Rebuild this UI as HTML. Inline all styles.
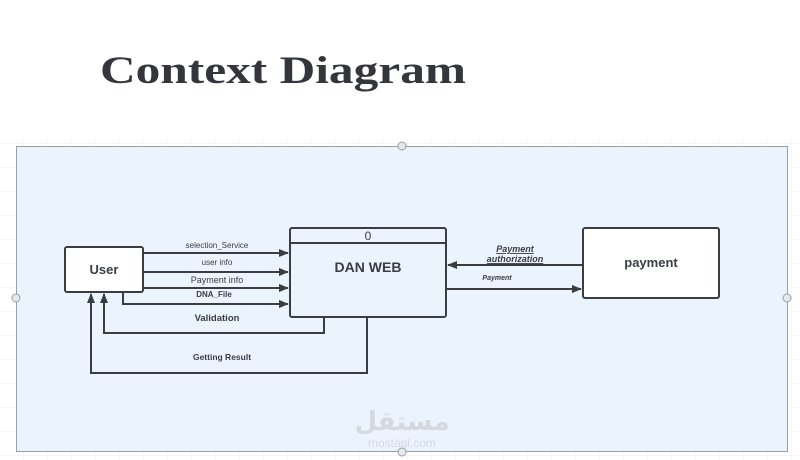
<!DOCTYPE html>
<html><head><meta charset="utf-8"><style>
html,body{margin:0;padding:0;background:#fff;}
svg{display:block;}
</style></head><body>
<svg width="800" height="460" viewBox="0 0 800 460" xmlns="http://www.w3.org/2000/svg" font-family="Liberation Sans, sans-serif">
<defs>
<pattern id="g" width="24" height="24" patternUnits="userSpaceOnUse"><path d="M24 0V24H0" fill="none" stroke="#eceef2" stroke-width="1"/></pattern>
<marker id="a" markerWidth="10" markerHeight="8" refX="9" refY="4" orient="auto" markerUnits="userSpaceOnUse"><path d="M0 0L10 4L0 8z" fill="#3a3d42"/></marker>
</defs>
<rect x="0" y="140" width="800" height="320" fill="url(#g)"/>
<text x="100" y="83" font-family="Liberation Serif, serif" font-weight="bold" font-size="39" fill="#33363a" textLength="366" lengthAdjust="spacingAndGlyphs">Context Diagram</text>
<rect x="16.5" y="146.5" width="771" height="305" fill="#ebf3fc" stroke="#9aa0a8" stroke-width="1"/>
<circle cx="402" cy="146" r="4" fill="#e6e8eb" stroke="#9aa0a8"/>
<circle cx="402" cy="452" r="4" fill="#e6e8eb" stroke="#9aa0a8"/>
<circle cx="16" cy="298" r="4" fill="#e6e8eb" stroke="#9aa0a8"/>
<circle cx="787" cy="298" r="4" fill="#e6e8eb" stroke="#9aa0a8"/>
<g stroke="#3a3d42" stroke-width="2" fill="none">
<rect x="65" y="247" width="78" height="45" rx="2" fill="#fff"/>
<rect x="290" y="228" width="156" height="89" rx="2" fill="#ebf3fc"/>
<line x1="290" y1="243" x2="446" y2="243"/>
<rect x="583" y="228" width="136" height="70" rx="2" fill="#fff"/>
<line x1="143" y1="253" x2="288" y2="253" marker-end="url(#a)"/>
<line x1="143" y1="272" x2="288" y2="272" marker-end="url(#a)"/>
<line x1="143" y1="288" x2="288" y2="288" marker-end="url(#a)"/>
<polyline points="123,292 123,304 288,304" marker-end="url(#a)"/>
<polyline points="324,317 324,333 104,333 104,294" marker-end="url(#a)"/>
<polyline points="367,317 367,373 91,373 91,294" marker-end="url(#a)"/>
<line x1="583" y1="265" x2="448" y2="265" marker-end="url(#a)"/>
<line x1="446" y1="289" x2="581" y2="289" marker-end="url(#a)"/>
</g>
<g fill="#3a3d42" text-anchor="middle">
<text x="104" y="274" font-size="13" font-weight="bold">User</text>
<text x="368" y="240" font-size="12">0</text>
<text x="368" y="272" font-size="14" font-weight="bold">DAN WEB</text>
<text x="651" y="267" font-size="13" font-weight="bold">payment</text>
<text x="217" y="248" font-size="8">selection_Service</text>
<text x="217" y="265" font-size="8">user info</text>
<text x="217" y="283" font-size="9">Payment info</text>
<text x="214" y="297" font-size="8" font-weight="bold">DNA_File</text>
<text x="217" y="321" font-size="9.5" font-weight="bold">Validation</text>
<text x="222" y="360" font-size="8.5" font-weight="bold">Getting Result</text>
<text x="515" y="252" font-size="9" font-weight="bold" font-style="italic" text-decoration="underline">Payment</text>
<text x="515" y="262" font-size="9" font-weight="bold" font-style="italic" text-decoration="underline">authorization</text>
<text x="497" y="280" font-size="7" font-weight="bold" font-style="italic">Payment</text>
</g>
<text x="402" y="430" text-anchor="middle" font-size="26" font-weight="bold" fill="#d4d9df" font-family="DejaVu Sans, sans-serif">مستقل</text>
<text x="402" y="447" text-anchor="middle" font-size="12" fill="#d4d9df">mostaql.com</text>
</svg>
</body></html>
